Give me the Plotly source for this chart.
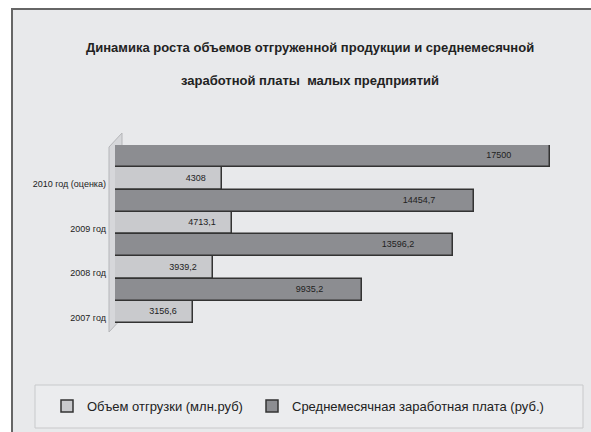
import plotly.graph_objects as go

# ---- data ----
categories = ["2007 год", "2008 год", "2009 год", "2010 год (оценка)"]
shipment = [3156.6, 3939.2, 4713.1, 4308]          # Объем отгрузки (млн.руб)
salary = [9935.2, 13596.2, 14454.7, 17500]          # Среднемесячная заработная плата (руб.)
series_names = ["Объем отгрузки (млн.руб)", "Среднемесячная заработная плата (руб.)"]
title_lines = ["Динамика роста объемов отгруженной продукции и среднемесячной",
               "заработной платы  малых предприятий"]

W, H = 591, 432
ML, MR, MT, MB = 115, 16, 145, 109
PW, PH = W - ML - MR, H - MT - MB
FONT = "Liberation Sans, Arial, sans-serif"


def px(xp):
    return (xp - ML) / PW


def py(yp):
    return (H - MB - yp) / PH


def fmt(v):
    return f"{v:g}".replace(".", ",")


NB = "\u00a0"

fig = go.Figure()
fig.add_trace(go.Bar(
    y=categories, x=shipment, orientation="h", name=series_names[0], legend="legend",
    marker=dict(color="#c9cacd", line=dict(color="#333333", width=1.5)),
    text=[fmt(v) + NB * 5 for v in shipment], textposition="inside",
    insidetextanchor="end", constraintext="none",
    textfont=dict(family=FONT, size=9, color="#222222"),
))
fig.add_trace(go.Bar(
    y=categories, x=salary, orientation="h", name=series_names[1], legend="legend2",
    marker=dict(color="#8c8d91", line=dict(color="#333333", width=1.5)),
    text=[fmt(v) + NB * 14 for v in salary], textposition="inside",
    insidetextanchor="end", constraintext="none",
    textfont=dict(family=FONT, size=9, color="#222222"),
))

shapes = [
    # outer frame
    dict(type="rect", xref="paper", yref="paper", layer="below",
         x0=px(12), x1=px(640), y0=py(9), y1=py(480),
         fillcolor="#e8e9eb", line=dict(color="#666666", width=2)),
    # 3D wall
    dict(type="path", xref="paper", yref="paper", layer="below",
         path=f"M {px(109)},{py(147)} L {px(122)},{py(133)} L {px(122)},{py(318)} "
              f"L {px(109)},{py(332)} Z",
         fillcolor="#d6d7da", line=dict(color="#b5b6b9", width=1)),
    # legend box
    dict(type="rect", xref="paper", yref="paper", layer="below",
         x0=px(35), x1=px(583), y0=py(385), y1=py(428),
         fillcolor="#ebecee", line=dict(color="#c8c9cb", width=1)),
]

annotations = [
    dict(text=title_lines[0], xref="paper", yref="paper", x=px(310), y=py(47),
         showarrow=False, xanchor="center", yanchor="middle",
         font=dict(family=FONT, size=13, color="#222222", weight="bold")),
    dict(text=title_lines[1], xref="paper", yref="paper", x=px(310), y=py(80),
         showarrow=False, xanchor="center", yanchor="middle",
         font=dict(family=FONT, size=13, color="#222222", weight="bold")),
]

legend_common = dict(orientation="h", xref="container", yref="container",
                     xanchor="left", yanchor="middle", bgcolor="rgba(0,0,0,0)",
                     font=dict(family=FONT, size=13, color="#222222"), itemwidth=30)

fig.update_layout(
    width=W, height=H,
    margin=dict(l=ML, r=MR, t=MT, b=MB, pad=0, autoexpand=False),
    paper_bgcolor="white", plot_bgcolor="rgba(0,0,0,0)",
    barmode="group", bargap=0.0, bargroupgap=0.0,
    shapes=shapes, annotations=annotations,
    showlegend=True,
    legend=dict(x=47 / W, y=1 - 406 / H, **legend_common),
    legend2=dict(x=252 / W, y=1 - 406 / H, **legend_common),
    xaxis=dict(range=[0, 18500], showgrid=False, zeroline=False, showticklabels=False,
               showline=False),
    yaxis=dict(type="category", categoryorder="array", categoryarray=categories,
               showgrid=False, zeroline=False, showline=False, ticks="",
               ticklabelshift=17, ticklabelstandoff=8,
               tickfont=dict(family=FONT, size=9, color="#222222")),
)

fig.write_html("out.html", config={"displayModeBar": False},
               post_script="document.body.style.margin='0';")
